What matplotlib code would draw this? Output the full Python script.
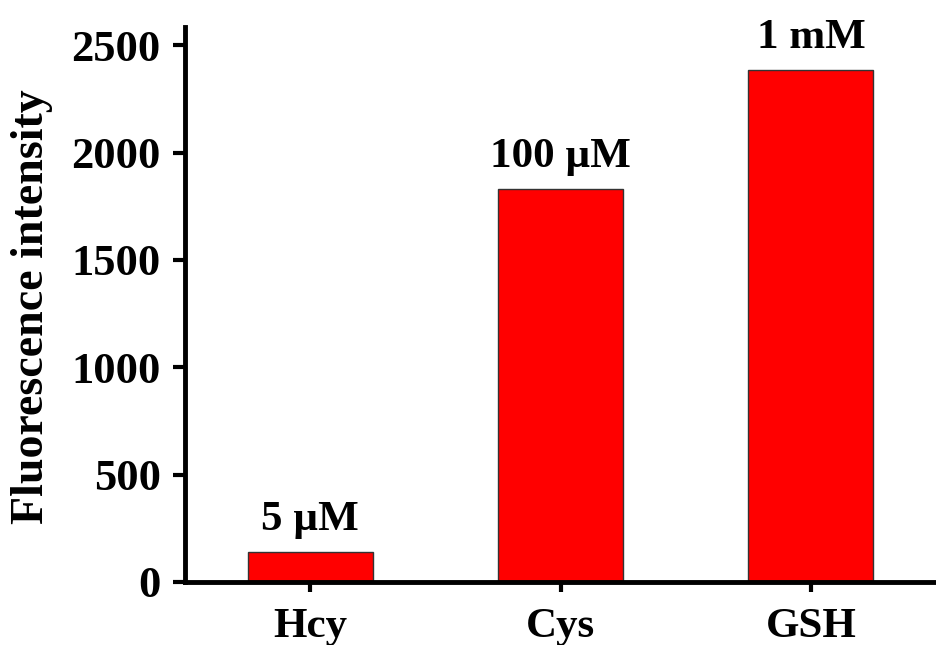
import numpy as np
import matplotlib.pyplot as plt

# Intensidad de fluorescencia para cada tiol
categories = ['Hcy', 'Cys', 'GSH']
intensity = [140, 1832, 2386]
conc_labels = ['5 \u00b5M', '100 \u00b5M', '1 mM']

plt.rcParams['font.family'] = 'Liberation Serif'
plt.rcParams['font.weight'] = 'bold'

fig = plt.figure(figsize=(9.37, 6.45), dpi=100)
ax = fig.add_axes([0.1974, 0.0977, 0.8016, 0.8603])

x = np.arange(len(categories))
bars = ax.bar(x, intensity, width=0.5, color='#ff0000', edgecolor='#333333', linewidth=1.0)

# etiquetas de concentracion sobre cada barra
for xi, val, lab in zip(x, intensity, conc_labels):
    ax.annotate(lab, (xi, val), xytext=(0, 16), textcoords='offset points',
                ha='center', va='baseline', fontsize=31, fontweight='bold')

ax.set_xlim(-0.5, 2.5)
ax.set_ylim(0, 2585)
ax.set_yticks([0, 500, 1000, 1500, 2000, 2500])
ax.set_xticks(x)
ax.set_xticklabels(categories)

ax.spines['top'].set_visible(False)
ax.spines['right'].set_visible(False)
ax.spines['left'].set_linewidth(3.5)
ax.spines['bottom'].set_linewidth(3.5)
ax.tick_params(axis='y', direction='out', length=8.5, width=3, labelsize=32, pad=9)
ax.tick_params(axis='x', direction='out', length=7.5, width=3, labelsize=31, pad=11)
for t in ax.get_xticklabels() + ax.get_yticklabels():
    t.set_fontweight('bold')

ax.set_ylabel('Fluorescence intensity', fontsize=33, fontweight='bold')
ax.yaxis.set_label_coords(-0.176, 0.496)

fig.savefig('out.png', dpi=100)
